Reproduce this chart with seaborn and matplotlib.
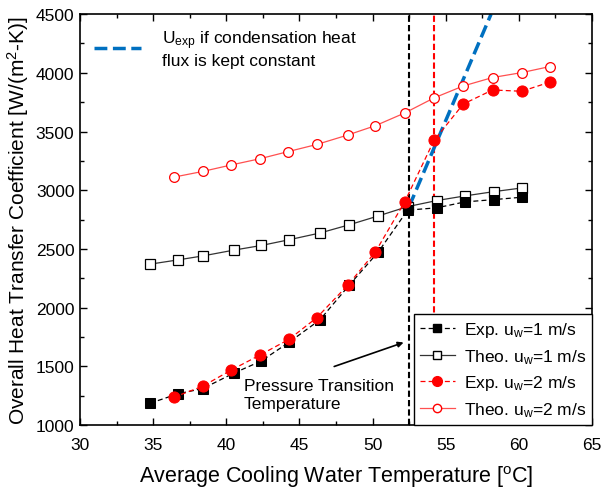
import matplotlib
matplotlib.use("Agg")
import matplotlib.pyplot as plt
import seaborn as sns
import pandas as pd
from matplotlib.ticker import MultipleLocator
from matplotlib.lines import Line2D

# ---- data ----
exp1_T = [34.8, 36.7, 38.4, 40.5, 42.4, 44.3, 46.4, 48.4, 50.4, 52.4, 54.4, 56.3, 58.3, 60.2]
exp1_U = [1185, 1265, 1310, 1440, 1545, 1705, 1895, 2190, 2475, 2830, 2850, 2900, 2920, 2940]

theo1_T = [34.8, 36.7, 38.4, 40.5, 42.4, 44.3, 46.4, 48.4, 50.4, 52.4, 54.4, 56.3, 58.3, 60.2]
theo1_U = [2370, 2406, 2440, 2489, 2529, 2578, 2635, 2705, 2781, 2860, 2912, 2951, 2988, 3019]

exp2_T = [36.4, 38.4, 40.3, 42.3, 44.3, 46.2, 48.3, 50.2, 52.2, 54.2, 56.2, 58.2, 60.2, 62.1]
exp2_U = [1235, 1330, 1465, 1595, 1730, 1915, 2190, 2475, 2901, 3424, 3734, 3854, 3843, 3920]

theo2_T = [36.4, 38.4, 40.3, 42.3, 44.2, 46.2, 48.3, 50.2, 52.2, 54.2, 56.2, 58.2, 60.2, 62.1]
theo2_U = [3111, 3160, 3214, 3268, 3328, 3390, 3470, 3550, 3658, 3786, 3888, 3960, 4002, 4053]

blue_T = [52.5, 58.1]
blue_U = [2860, 4500]

transition_T1 = 52.5
transition_T2 = 54.2

plt.rcParams['font.family'] = ['Liberation Sans', 'DejaVu Sans']
plt.rcParams['mathtext.fontset'] = 'custom'
plt.rcParams['mathtext.rm'] = 'Liberation Sans'
plt.rcParams['mathtext.it'] = 'Liberation Sans'

fig = plt.figure(figsize=(6.01, 4.89), dpi=100)
ax = fig.add_axes([0.133, 0.129, 0.852, 0.840])

ax.axvline(transition_T1, color='black', ls=(0, (3, 1.5)), lw=1.5, zorder=1)
ax.axvline(transition_T2, color='red', ls=(0, (3, 1.5)), lw=1.5, zorder=1)

sns.lineplot(x=blue_T, y=blue_U, ax=ax, color='#0070c0', lw=2.5, ls='--',
             zorder=2, label=None)

sns.lineplot(x=theo2_T, y=theo2_U, ax=ax, color='#ff5050', lw=0.9,
             marker='o', markersize=7, markerfacecolor='white',
             markeredgecolor='red', markeredgewidth=0.9, sort=False, zorder=3)
sns.lineplot(x=theo1_T, y=theo1_U, ax=ax, color='#333333', lw=0.9,
             marker='s', markersize=6.5, markerfacecolor='white',
             markeredgecolor='black', markeredgewidth=0.9, sort=False, zorder=3)
sns.lineplot(x=exp1_T, y=exp1_U, ax=ax, color='black', lw=0.9, ls=(0, (4, 2.5)),
             marker='s', markersize=6.5, markerfacecolor='black',
             markeredgecolor='black', sort=False, zorder=4)
sns.lineplot(x=exp2_T, y=exp2_U, ax=ax, color='red', lw=0.9, ls=(0, (4, 2.5)),
             marker='o', markersize=8, markerfacecolor='red',
             markeredgecolor='red', sort=False, zorder=5)

ax.set_xlim(30, 65)
ax.set_ylim(1000, 4500)
ax.xaxis.set_major_locator(MultipleLocator(5))
ax.xaxis.set_minor_locator(MultipleLocator(2.5))
ax.yaxis.set_major_locator(MultipleLocator(500))
ax.yaxis.set_minor_locator(MultipleLocator(250))
ax.tick_params(which='both', direction='in', top=True, right=True, labelsize=12.5)
ax.tick_params(which='major', length=5, width=1)
ax.tick_params(which='minor', length=3, width=1)
ax.tick_params(axis='x', pad=9)
ax.tick_params(axis='y', pad=4)
for s in ax.spines.values():
    s.set_linewidth(1.2)

ax.set_xlabel('Average Cooling Water Temperature [$^{\\mathrm{o}}$C]', fontsize=15.5, labelpad=8)
ax.set_ylabel('Overall Heat Transfer Coefficient [W/(m$^{2}$-K)]', fontsize=15, labelpad=3)

# annotation
ax.annotate('', xy=(52.3, 1710), xytext=(47.2, 1490),
            arrowprops=dict(arrowstyle='-|>', color='black', lw=1.2, mutation_scale=8))
ax.text(41.2, 1255, 'Pressure Transition\nTemperature', fontsize=12.5, va='center',
        ha='left', linespacing=1.25)

# legends
h_blue = Line2D([], [], color='#0070c0', lw=2.5, ls='--')
leg1 = ax.legend([h_blue], ['U$_{\\mathrm{exp}}$ if condensation heat\nflux is kept constant'],
                 loc='upper left', frameon=False, fontsize=12.5, handlelength=2.7,
                 borderaxespad=0.4, handletextpad=1.2)
ax.add_artist(leg1)

handles = [
    Line2D([], [], color='black', lw=0.9, ls=(0, (4, 2.5)), marker='s', markersize=5.5,
           markerfacecolor='black', markeredgecolor='black'),
    Line2D([], [], color='#333333', lw=0.9, marker='s', markersize=5.5,
           markerfacecolor='white', markeredgecolor='black'),
    Line2D([], [], color='red', lw=0.9, ls=(0, (4, 2.5)), marker='o', markersize=7,
           markerfacecolor='red', markeredgecolor='red'),
    Line2D([], [], color='#ff5050', lw=0.9, marker='o', markersize=6,
           markerfacecolor='white', markeredgecolor='red'),
]
labels = ['Exp. u$_{\\mathrm{w}}$=1 m/s', 'Theo. u$_{\\mathrm{w}}$=1 m/s',
          'Exp. u$_{\\mathrm{w}}$=2 m/s', 'Theo. u$_{\\mathrm{w}}$=2 m/s']
leg2 = ax.legend(handles, labels, loc='lower right', fontsize=12.5, frameon=True,
                 fancybox=False, edgecolor='black', framealpha=1, borderaxespad=0,
                 handlelength=2.0, handletextpad=0.5, labelspacing=0.45,
                 borderpad=0.35)
leg2.get_frame().set_linewidth(1.0)

fig.savefig('out.png', dpi=100)
